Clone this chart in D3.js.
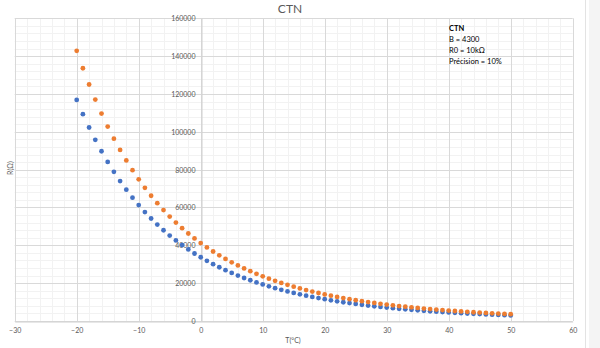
<!DOCTYPE html>
<html>
<head>
<meta charset="utf-8">
<script src="https://cdn.jsdelivr.net/npm/d3@7"></script>
<style>
  html, body { margin: 0; padding: 0; background: #ffffff; }
  svg { display: block; font-family: Lato, "Open Sans", sans-serif; }
</style>
</head>
<body>
<svg id="chart" width="600" height="348"></svg>
<script>
// ---- data ----
const title = "CTN";
const xTitle = "T(°C)";
const yTitle = "R(Ω)";
const infoLines = ["CTN", "B = 4300", "R0 = 10kΩ", "Précision = 10%"];

const temperatures = [-20,-19,-18,-17,-16,-15,-14,-13,-12,-11,-10,-9,-8,-7,-6,-5,-4,-3,-2,-1,
  0,1,2,3,4,5,6,7,8,9,10,11,12,13,14,15,16,17,18,19,20,21,22,23,24,25,26,27,28,29,
  30,31,32,33,34,35,36,37,38,39,40,41,42,43,44,45,46,47,48,49,50];

const rMin = [116860,109310,102290,95770,89720,84100,78860,73980,69440,65210,
  61280,57600,54170,50970,47980,45180,42570,40120,37840,35690,
  33690,31820,30050,28400,26850,25390,24020,22730,21530,20390,
  19320,18320,17370,16480,15630,14850,14100,13390,12730,12110,
  11510,10950,10420,9920,9450,9000,8580,8170,7790,7430,
  7090,6770,6460,6170,5900,5630,5390,5150,4920,4720,
  4510,4320,4130,3960,3790,3640,3480,3340,3200,3070,2950];

const rMax = [142820,133600,125020,117050,109660,102780,96380,90420,84880,79710,
  74900,70400,66210,62290,58640,55220,52030,49040,46240,43630,
  41170,38890,36730,34710,32810,31030,29360,27790,26310,24930,
  23620,22390,21230,20140,19110,18150,17240,16370,15550,14800,
  14070,13390,12740,12120,11550,11000,10480,9990,9530,9090,
  8670,8270,7900,7550,7210,6890,6590,6290,6020,5760,
  5510,5280,5050,4840,4630,4440,4260,4080,3920,3750,3610];

const xTicks = [-30,-20,-10,0,10,20,30,40,50,60];
const yTicks = [0,20000,40000,60000,80000,100000,120000,140000,160000];
const xMinorTicks = [-28,-26,-24,-22,-18,-16,-14,-12,-8,-6,-4,-2,2,4,6,8,12,14,16,18,22,24,26,28,32,34,36,38,42,44,46,48,52,54,56,58];
const yMinorTicks = [4000,8000,12000,16000,24000,28000,32000,36000,44000,48000,52000,56000,64000,68000,72000,76000,84000,88000,92000,96000,104000,108000,112000,116000,124000,128000,132000,136000,144000,148000,152000,156000];

// ---- drawing ----
const svg = d3.select("#chart");
const x = d3.scaleLinear().domain([-30, 60]).range([14.7, 572.7]);
const y = d3.scaleLinear().domain([0, 160000]).range([321, 18.3]);

// right-side panel (window chrome)
svg.append("rect").attr("x", 589).attr("y", 0).attr("width", 11).attr("height", 348).attr("fill", "#f4f4f4");
svg.append("line").attr("x1", 585.5).attr("x2", 585.5).attr("y1", 0).attr("y2", 348).attr("stroke", "#e3e3e3");

const grid = svg.append("g");
// minor gridlines
grid.selectAll(".xm").data(xMinorTicks).join("line")
  .attr("x1", d => Math.round(x(d)) + 0.5).attr("x2", d => Math.round(x(d)) + 0.5)
  .attr("y1", y(160000)).attr("y2", y(0)).attr("stroke", "#f2f2f2");
grid.selectAll(".ym").data(yMinorTicks).join("line")
  .attr("y1", d => Math.round(y(d)) + 0.5).attr("y2", d => Math.round(y(d)) + 0.5)
  .attr("x1", x(-30)).attr("x2", x(60)).attr("stroke", "#f2f2f2");
// major gridlines
grid.selectAll(".xM").data(xTicks).join("line")
  .attr("x1", d => Math.round(x(d)) + 0.5).attr("x2", d => Math.round(x(d)) + 0.5)
  .attr("y1", y(160000)).attr("y2", y(0)).attr("stroke", "#d9d9d9");
grid.selectAll(".yM").data(yTicks).join("line")
  .attr("y1", d => Math.round(y(d)) + 0.5).attr("y2", d => Math.round(y(d)) + 0.5)
  .attr("x1", x(-30)).attr("x2", x(60)).attr("stroke", "#d9d9d9");

// axes through zero
const xAxis = d3.axisBottom(x).tickValues(xTicks).tickSize(0).tickPadding(0);
const gx = svg.append("g").attr("transform", `translate(0,${Math.round(y(0)) + 0.5})`).call(xAxis);
gx.select(".domain").attr("stroke", "#d0d0d0");
gx.selectAll("text").attr("fill", "#595959").attr("font-size", "7px").attr("dy", null).attr("y", 11.5);

const yAxis = d3.axisLeft(y).tickValues(yTicks).tickSize(0).tickPadding(0).tickFormat(d3.format("d"));
const gy = svg.append("g").attr("transform", `translate(${Math.round(x(0)) + 0.5},0)`).call(yAxis);
gy.select(".domain").attr("stroke", "#d0d0d0");
gy.selectAll("text").attr("fill", "#595959").attr("font-size", "7px").attr("x", -6).attr("dy", "0.34em");
svg.selectAll(".tick line").remove();
svg.selectAll("g text").attr("font-family", "Lato, 'Open Sans', sans-serif");

// series
const pts = temperatures.map((t, i) => ({t, lo: rMin[i], hi: rMax[i]}));
svg.append("g").selectAll("circle").data(pts).join("circle")
  .attr("cx", d => x(d.t)).attr("cy", d => y(d.lo)).attr("r", 2.4).attr("fill", "#4472c4");
svg.append("g").selectAll("circle").data(pts).join("circle")
  .attr("cx", d => x(d.t)).attr("cy", d => y(d.hi)).attr("r", 2.4).attr("fill", "#ed7d31");

// titles
svg.append("text").attr("x", 290).attr("y", 13).attr("text-anchor", "middle")
  .attr("font-size", "12px").attr("fill", "#595959").text(title);
svg.append("text").attr("x", 293).attr("y", 343).attr("text-anchor", "middle")
  .attr("font-size", "7px").attr("fill", "#595959").text(xTitle);
svg.append("text").attr("transform", "translate(12.5,168) rotate(-90)").attr("text-anchor", "middle")
  .attr("font-size", "7px").attr("fill", "#595959").text(yTitle);

// info text box
svg.append("g").selectAll("text").data(infoLines).join("text")
  .attr("x", 449).attr("y", (d, i) => 30.7 + i * 11.1)
  .attr("font-size", "7.5px").attr("fill", "#000000")
  .attr("font-weight", (d, i) => i === 0 ? "bold" : "normal")
  .text(d => d);
</script>
</body>
</html>
